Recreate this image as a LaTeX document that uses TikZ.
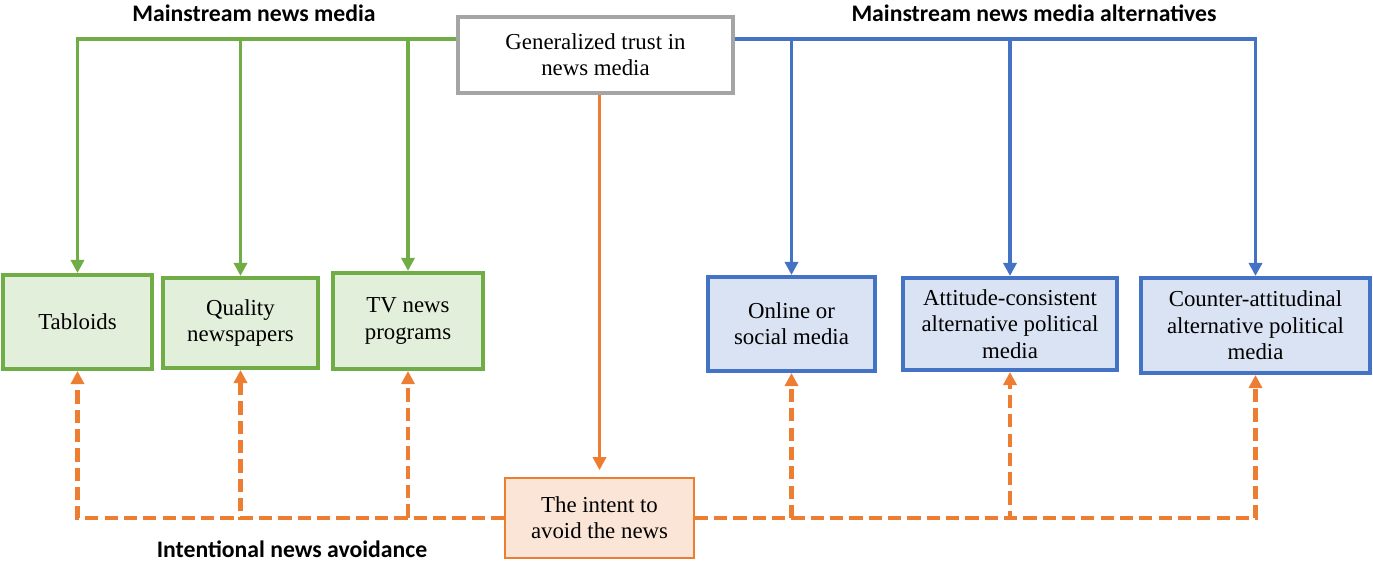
\documentclass[tikz,border=0pt]{standalone}
\usepackage{fontspec}
\setmainfont{Liberation Serif}
\newfontfamily\lblfont{Carlito}
\usepackage{xcolor}
\usetikzlibrary{arrows.meta}
\definecolor{msgreen}{HTML}{70AD47}
\definecolor{msgreenfill}{HTML}{E2EFDA}
\definecolor{msblue}{HTML}{4472C4}
\definecolor{msbluefill}{HTML}{DAE3F3}
\definecolor{msorange}{HTML}{ED7D31}
\definecolor{msorangefill}{HTML}{FBE5D6}
\definecolor{msgray}{HTML}{A5A5A5}

\begin{document}
\begin{tikzpicture}[x=0.02cm,y=-0.02cm,
  box/.style={align=center,inner sep=2pt,font=\rmfamily\fontsize{13}{15}\selectfont},
  greenbox/.style={box,draw=msgreen,fill=msgreenfill,line width=2.3pt},
  bluebox/.style={box,draw=msblue,fill=msbluefill,line width=2.3pt},
  genbox/.style={box,draw=msgray,fill=white,line width=2.3pt},
  intentbox/.style={box,draw=msorange,fill=msorangefill,line width=0.9pt},
  tip/.style={-{Triangle[width=7.5pt,length=7.5pt]}},
  greenline/.style={tip,draw=msgreen,line width=2pt},
  blueline/.style={tip,draw=msblue,line width=2pt},
  avoidline/.style={tip,draw=msorange,line width=2pt},
  avoiddash/.style={tip,draw=msorange,line width=2.6pt,dash pattern=on 7.5pt off 3.5pt},
  grouplabel/.style={font=\lblfont\bfseries\fontsize{13.5}{15}\selectfont}]
\useasboundingbox (0,0) rectangle (1373,563);

\node[genbox,minimum width=5.5cm,minimum height=1.52cm] (gen) at (595.5,55) {Generalized trust in\\news media};
\coordinate (trunk) at (600,39);

\node[greenbox,minimum width=2.98cm,minimum height=1.88cm] (tab) at (77.5,322) {Tabloids};
\node[greenbox,minimum width=3.1cm,minimum height=1.8cm] (qual) at (240.5,323) {Quality\\newspapers};
\node[greenbox,minimum width=3.0cm,minimum height=1.92cm] (tv) at (408,321) {TV news\\programs};

\node[bluebox,minimum width=3.34cm,minimum height=1.88cm] (online) at (791.5,324) {Online or\\social media};
\node[bluebox,minimum width=4.28cm,minimum height=1.84cm] (att) at (1010,324) {Attitude-consistent\\alternative political\\media};
\node[bluebox,minimum width=4.58cm,minimum height=1.9cm] (counter) at (1255.5,325.5) {Counter-attitudinal\\alternative political\\media};

\node[intentbox,minimum width=3.78cm,minimum height=1.6cm] (intent) at (599.5,518) {The intent to\\avoid the news};

\node[grouplabel] (lmain) at (254,13) {Mainstream news media};
\node[grouplabel] (lalt) at (1034,13) {Mainstream news media alternatives};
\node[grouplabel] (lavoid) at (292,549) {Intentional news avoidance};

\draw[greenline] (gen.west |- trunk) -| (tab.north);
\draw[greenline] (gen.west |- trunk) -| (qual.north);
\draw[greenline] (gen.west |- trunk) -| (tv.north);

\draw[blueline] (gen.east |- trunk) -| (online.north);
\draw[blueline] (gen.east |- trunk) -| (att.north);
\draw[blueline] (gen.east |- trunk) -| (counter.north);

\draw[avoidline,shorten >=4pt] (intent.north |- gen.south) -- (intent.north);

\draw[avoiddash] (intent.west) -| (tab.south);
\draw[avoiddash] (intent.west) -| (qual.south);
\draw[avoiddash] (intent.west) -| (tv.south);
\draw[avoiddash] (intent.east) -| (online.south);
\draw[avoiddash] (intent.east) -| (att.south);
\draw[avoiddash] (intent.east) -| (counter.south);
\end{tikzpicture}
\end{document}
